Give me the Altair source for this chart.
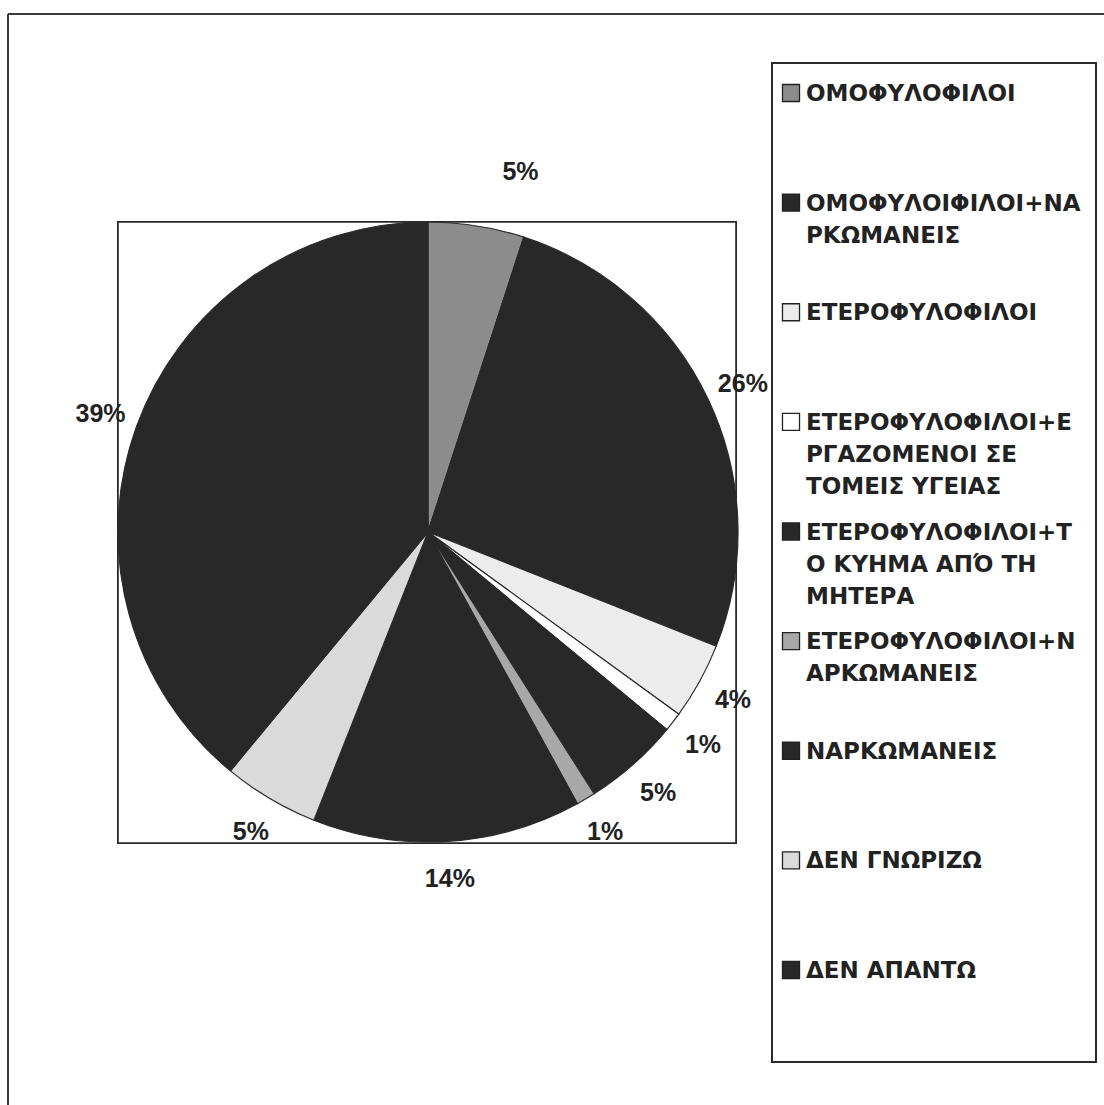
import altair as alt
import pandas as pd

# Survey answers, in the order they are drawn (clockwise from 12 o'clock)
categories = [
    "ΟΜΟΦΥΛΟΦΙΛΟΙ",
    "ΟΜΟΦΥΛΟΙΦΙΛΟΙ+ΝΑΡΚΩΜΑΝΕΙΣ",
    "ΕΤΕΡΟΦΥΛΟΦΙΛΟΙ",
    "ΕΤΕΡΟΦΥΛΟΦΙΛΟΙ+ΕΡΓΑΖΟΜΕΝΟΙ ΣΕ ΤΟΜΕΙΣ ΥΓΕΙΑΣ",
    "ΕΤΕΡΟΦΥΛΟΦΙΛΟΙ+ΤΟ ΚΥΗΜΑ ΑΠΌ ΤΗ ΜΗΤΕΡΑ",
    "ΕΤΕΡΟΦΥΛΟΦΙΛΟΙ+ΝΑΡΚΩΜΑΝΕΙΣ",
    "ΝΑΡΚΩΜΑΝΕΙΣ",
    "ΔΕΝ ΓΝΩΡΙΖΩ",
    "ΔΕΝ ΑΠΑΝΤΩ",
]

# Legend text, wrapped the way the legend box breaks it
legend_labels = [
    "ΟΜΟΦΥΛΟΦΙΛΟΙ",
    "ΟΜΟΦΥΛΟΙΦΙΛΟΙ+ΝΑ\nΡΚΩΜΑΝΕΙΣ",
    "ΕΤΕΡΟΦΥΛΟΦΙΛΟΙ",
    "ΕΤΕΡΟΦΥΛΟΦΙΛΟΙ+Ε\nΡΓΑΖΟΜΕΝΟΙ ΣΕ\nΤΟΜΕΙΣ ΥΓΕΙΑΣ",
    "ΕΤΕΡΟΦΥΛΟΦΙΛΟΙ+Τ\nΟ ΚΥΗΜΑ ΑΠΌ ΤΗ\nΜΗΤΕΡΑ",
    "ΕΤΕΡΟΦΥΛΟΦΙΛΟΙ+Ν\nΑΡΚΩΜΑΝΕΙΣ",
    "ΝΑΡΚΩΜΑΝΕΙΣ",
    "ΔΕΝ ΓΝΩΡΙΖΩ",
    "ΔΕΝ ΑΠΑΝΤΩ",
]

# Share of answers, in percent
percent = [5, 26, 4, 1, 5, 1, 14, 5, 39]

# Greyscale fills for the slices
slice_colors = [
    "#8c8c8c", "#282828", "#ececec", "#ffffff", "#282828",
    "#a8a8a8", "#282828", "#dadada", "#282828",
]

df = pd.DataFrame({
    "category": categories,
    "legend_label": legend_labels,
    "percent": percent,
    "order": list(range(len(categories))),
})
df["pct_text"] = df["percent"].astype(str) + "%"

CX, CY, R = 428, 532, 310

color = alt.Color(
    "category:N",
    scale=alt.Scale(domain=categories, range=slice_colors),
    legend=None,
)
theta = alt.Theta("percent:Q", stack=True)
order = alt.Order("order:Q", sort="ascending")
legend_y = alt.Y("order:Q", scale=alt.Scale(domain=[0, 8], range=[93, 970]), axis=None)

frame_top = alt.Chart(df).mark_rule(color="#3a3a3a", strokeWidth=2).encode(
    x=alt.value(8), x2=alt.value(1104), y=alt.value(14)
)
frame_left = alt.Chart(df).mark_rule(color="#3a3a3a", strokeWidth=2).encode(
    x=alt.value(8), y=alt.value(14), y2=alt.value(1105)
)

plot_box = alt.Chart(df).mark_rect(fill="white", stroke="#2a2a2a", strokeWidth=1.6).encode(
    x=alt.value(118), x2=alt.value(736), y=alt.value(222), y2=alt.value(843)
)

legend_box = alt.Chart(df).mark_rect(fill="white", stroke="#2a2a2a", strokeWidth=2).encode(
    x=alt.value(772), x2=alt.value(1096), y=alt.value(63), y2=alt.value(1062)
)

pie = alt.Chart(df).mark_arc(radius=R, stroke="#2a2a2a", strokeWidth=1.2).encode(
    theta=theta,
    color=color,
    order=order,
    x=alt.value(CX),
    y=alt.value(CY),
)

label_style = dict(
    radius=R + 38,
    font="Liberation Sans",
    fontSize=25,
    fontWeight="bold",
    color="#222222",
    baseline="middle",
    align="center",
)

# The first slice's label sits up and to the right of its slice
is_first = alt.datum.order == 0

pct_labels = alt.Chart(df).mark_text(**label_style).encode(
    theta=theta,
    detail="category:N",
    order=order,
    text="pct_text:N",
    opacity=alt.condition(is_first, alt.value(0), alt.value(1)),
    x=alt.value(CX),
    y=alt.value(CY),
)

pct_label_first = alt.Chart(df).mark_text(dx=38, dy=-16, **label_style).encode(
    theta=theta,
    detail="category:N",
    order=order,
    text="pct_text:N",
    opacity=alt.condition(is_first, alt.value(1), alt.value(0)),
    x=alt.value(CX),
    y=alt.value(CY),
)

legend_marks = alt.Chart(df).mark_square(
    size=290, stroke="#222222", strokeWidth=1.3, opacity=1, filled=True
).encode(
    x=alt.value(791),
    y=legend_y,
    color=color,
)

legend_text = alt.Chart(df).mark_text(
    align="left",
    baseline="top",
    dy=-10,
    lineBreak="\n",
    lineHeight=32,
    font="DejaVu Sans",
    fontSize=23,
    fontWeight="bold",
    color="#222222",
).encode(
    x=alt.value(806),
    y=legend_y,
    text="legend_label:N",
)

chart = alt.layer(
    frame_top, frame_left, plot_box, legend_box, pie,
    pct_labels, pct_label_first, legend_marks, legend_text,
).properties(
    width=1104,
    height=1105,
    autosize=alt.AutoSizeParams(type="none"),
    padding=0,
    background="white",
).configure_view(stroke=None)

chart.save("out.html", embed_options={"renderer": "svg", "actions": False})
